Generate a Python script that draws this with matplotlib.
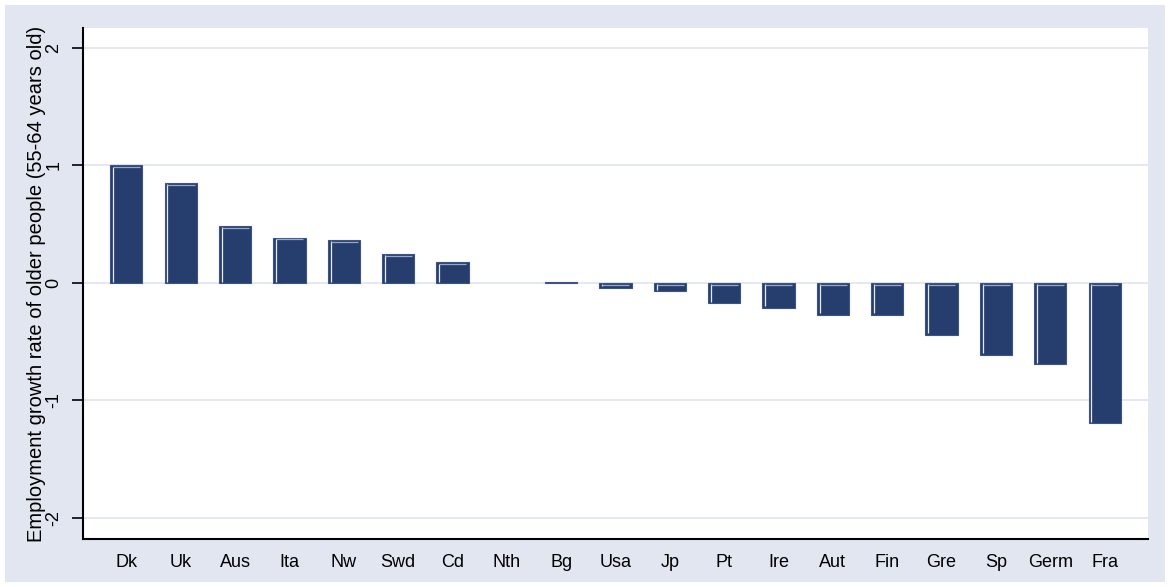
import matplotlib
matplotlib.use("Agg")
import matplotlib.pyplot as plt
from matplotlib.patches import Rectangle
import numpy as np

categories = ["Dk", "Uk", "Aus", "Ita", "Nw", "Swd", "Cd", "Nth", "Bg", "Usa",
              "Jp", "Pt", "Ire", "Aut", "Fin", "Gre", "Sp", "Germ", "Fra"]
values = [1.00, 0.85, 0.485, 0.385, 0.365, 0.245, 0.175, 0.0, 0.01, -0.04,
          -0.07, -0.17, -0.21, -0.27, -0.27, -0.44, -0.61, -0.69, -1.19]
yticks = [-2, -1, 0, 1, 2]
ylabel = "Employment growth rate of older people (55-64 years old)"

plt.rcParams['font.family'] = ['Liberation Sans', 'DejaVu Sans']

W, H = 1170, 587
fig = plt.figure(figsize=(W / 100, H / 100), dpi=100)
fig.patch.set_facecolor("white")
bg = Rectangle((5 / W, 5 / H), 1 - 10 / W, 1 - 10 / H, transform=fig.transFigure,
               facecolor="#e1e6f1", edgecolor="none", zorder=-10)
fig.patches.append(bg)

ax = fig.add_axes([83 / W, 1 - 539 / H, (1148 - 83) / W, (539 - 28) / H])
ax.set_facecolor("white")

x = np.arange(len(categories))
bw = 0.59
bars = ax.bar(x, values, width=bw, color="#263e6e", edgecolor="#3c5383",
              linewidth=0.8, zorder=3)
for b, v in zip(bars, values):
    if v == 0:
        b.set_visible(False)
# inner highlight (Stata-like)
for xi, v in zip(x, values):
    if abs(v) < 0.02:
        continue
    top = max(v, 0)
    bot = min(v, 0)
    ax.plot([xi - bw / 2 + 0.05, xi - bw / 2 + 0.05], [bot + 0.01, top - 0.01],
            color="#e6ebf5", lw=0.9, zorder=4, solid_capstyle="butt")
    ax.plot([xi - bw / 2 + 0.05, xi + bw / 2 - 0.04], [top - 0.015, top - 0.015],
            color="#9aa8c6", lw=0.9, zorder=4, solid_capstyle="butt")

ax.set_xlim(-0.8, 18.8)
ax.set_ylim(-2.18, 2.17)
ax.set_yticks(yticks)
ax.set_yticklabels([str(t) for t in yticks], rotation=90, va="center", fontsize=13)
ax.set_xticks(x)
ax.set_xticklabels(categories, fontsize=13)
ax.tick_params(axis="x", length=0, pad=11)
ax.tick_params(axis="y", length=8, width=1.2, direction="out", pad=7)
ax.yaxis.grid(True, color="#e1e6f1", lw=1.3, zorder=0)
ax.set_axisbelow(True)

for s in ["top", "right"]:
    ax.spines[s].set_visible(False)
for s in ["left", "bottom"]:
    ax.spines[s].set_color("black")
    ax.spines[s].set_linewidth(1.5)

ax.set_ylabel(ylabel, fontsize=14.5, va="center")
ax.yaxis.set_label_coords(-(83 - 37) / (1148 - 83), 0.499)

fig.savefig("out.png", dpi=100, facecolor=fig.get_facecolor())
